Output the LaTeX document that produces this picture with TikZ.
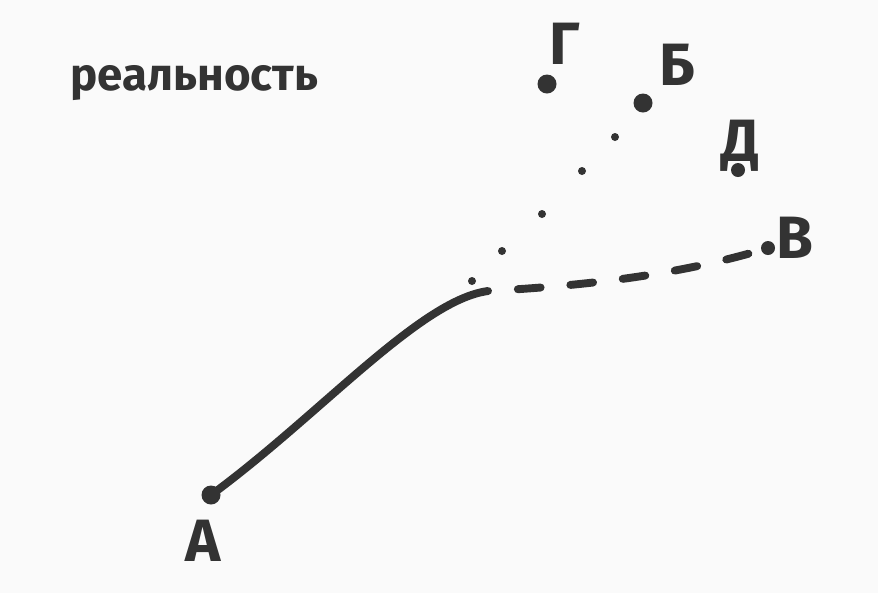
\documentclass[tikz,border=0pt]{standalone}
\usepackage{fontspec}
\setmainfont{Fira Sans}
\usetikzlibrary{calc}

\definecolor{ink}{HTML}{333333}
\definecolor{paper}{HTML}{FAFAFA}

\tikzset{
    pen/.style={draw=ink, line width=4.5pt, line cap=round},
    letter/.style={text=ink, font=\bfseries\fontsize{34}{34}\selectfont, inner sep=0pt},
}

\begin{document}
\begin{tikzpicture}[x=0.02cm, y=-0.02cm]
    \def\rbig{9.5};
    \def\rmid{7};
    \def\rdot{4};

    \fill[paper] (0,0) rectangle (878,593);
    \useasboundingbox (0,0) rectangle (878,593);

    \coordinate (A) at (211, 495);
    \coordinate (K) at (488, 291);
    \coordinate (V) at (768, 248);
    \coordinate (G) at (547, 84);
    \coordinate (B) at (643, 103);
    \coordinate (D) at (738, 170);
    \coordinate (P1) at (472, 281);
    \coordinate (P2) at (502, 251);
    \coordinate (P3) at (542, 214);
    \coordinate (P4) at (582, 171);
    \coordinate (P5) at (615, 137);

    \draw[pen] (A) .. controls (320, 415) and (420, 300) .. (K);
    \draw[pen, dash pattern=on 13pt off 17pt, dash phase=13pt] (K) .. controls (600, 285) and (690, 272) .. (V);

    \foreach \p in {P1, P2, P3, P4, P5}
        \fill[ink] (\p) circle (\rdot);
    \fill[ink] (A) circle (\rbig);
    \fill[ink] (G) circle (\rbig);
    \fill[ink] (B) circle (\rbig);
    \fill[ink] (D) circle (\rmid);
    \fill[ink] (V) circle (\rmid);

    \node[letter] (labA) at (203, 541) {А};
    \node[letter] (labG) at (565, 44) {Г};
    \node[letter] (labB) at (677, 65) {Б};
    \node[letter] (labD) at (740, 146) {Д};
    \node[letter] (labV) at (795, 238) {В};
    \node[text=ink, font=\bfseries\fontsize{26}{26}\selectfont, anchor=base west, inner sep=0pt] (title) at (70, 90) {реальность};

\end{tikzpicture}
\end{document}
